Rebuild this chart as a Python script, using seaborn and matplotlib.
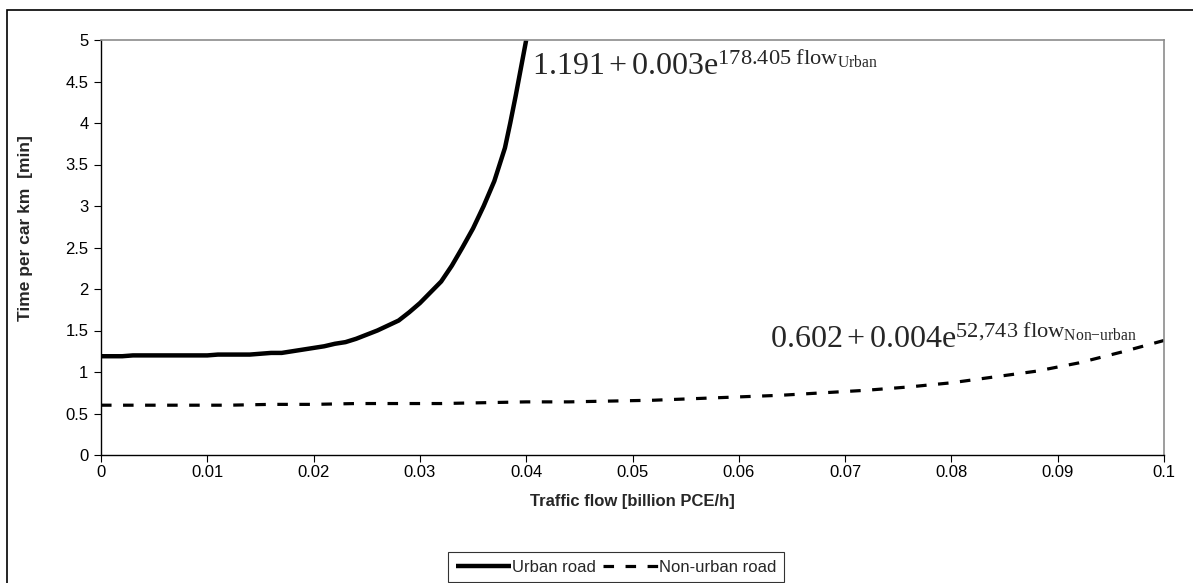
import numpy as np
import pandas as pd
import matplotlib
matplotlib.use("Agg")
import matplotlib.pyplot as plt
import seaborn as sns
from matplotlib.patches import Rectangle

# ---------------- data ----------------
urban_flow = [0.000, 0.001, 0.002, 0.003, 0.004, 0.005, 0.006, 0.007, 0.008, 0.009,
              0.010, 0.011, 0.012, 0.013, 0.014, 0.015, 0.016, 0.017, 0.018, 0.019,
              0.020, 0.021, 0.022, 0.023, 0.024, 0.025, 0.026, 0.027, 0.028, 0.029,
              0.030, 0.031, 0.032, 0.033, 0.034, 0.035, 0.036, 0.037, 0.038, 0.0385,
              0.039, 0.0395, 0.040]
urban_time = [1.19, 1.19, 1.19, 1.20, 1.20, 1.20, 1.20, 1.20, 1.20, 1.20,
              1.20, 1.21, 1.21, 1.21, 1.21, 1.22, 1.23, 1.23, 1.25, 1.27,
              1.29, 1.31, 1.34, 1.36, 1.40, 1.45, 1.50, 1.56, 1.62, 1.72,
              1.83, 1.96, 2.09, 2.28, 2.50, 2.73, 3.00, 3.30, 3.70, 4.00,
              4.32, 4.66, 5.00]

nonurban_flow = [0.000, 0.004, 0.008, 0.012, 0.016, 0.020, 0.024, 0.028, 0.032,
                 0.036, 0.040, 0.044, 0.048, 0.052, 0.056, 0.060, 0.064, 0.068,
                 0.072, 0.076, 0.080, 0.084, 0.088, 0.092, 0.096, 0.100]
nonurban_time = [0.60, 0.60, 0.60, 0.60, 0.61, 0.61, 0.62, 0.62, 0.62,
                 0.63, 0.64, 0.64, 0.65, 0.66, 0.68, 0.70, 0.72, 0.75,
                 0.78, 0.82, 0.87, 0.94, 1.01, 1.11, 1.24, 1.38]

series_names = ["Urban road", "Non-urban road"]

x_ticks = [0.0, 0.01, 0.02, 0.03, 0.04, 0.05, 0.06, 0.07, 0.08, 0.09, 0.1]
x_tick_labels = ["0", "0.01", "0.02", "0.03", "0.04", "0.05", "0.06", "0.07",
                 "0.08", "0.09", "0.1"]
y_ticks = [0, 0.5, 1, 1.5, 2, 2.5, 3, 3.5, 4, 4.5, 5]
y_tick_labels = ["0", "0.5", "1", "1.5", "2", "2.5", "3", "3.5", "4", "4.5", "5"]

x_label = "Traffic flow [billion PCE/h]"
y_label = "Time per car km  [min]"
urban_eq = r"$\mathrm{1.191+0.003e^{178.405\ flow_{Urban}}}$"
nonurban_eq = r"$\mathrm{0.602+0.004e^{52{,}743\ flow_{Non{-}urban}}}$"

# ---------------- style ----------------
sns.set_style("white")
plt.rcParams["font.family"] = ["Liberation Sans", "DejaVu Sans"]
plt.rcParams["mathtext.fontset"] = "custom"
plt.rcParams["mathtext.rm"] = "Liberation Serif"
plt.rcParams["mathtext.it"] = "Liberation Serif:italic"
plt.rcParams["mathtext.bf"] = "Liberation Serif:bold"

W, H = 1193, 583
fig = plt.figure(figsize=(W / 100, H / 100), dpi=100)
fig.patch.set_facecolor("white")

# axes placement (pixels from reference)
left, right, top, bottom = 101, 1164, 40, 455
ax = fig.add_axes([left / W, 1 - bottom / H, (right - left) / W, (bottom - top) / H])

df_u = pd.DataFrame({"flow": urban_flow, "time": urban_time, "road": series_names[0]})
df_n = pd.DataFrame({"flow": nonurban_flow, "time": nonurban_time, "road": series_names[1]})

sns.lineplot(data=df_u, x="flow", y="time", ax=ax, color="black", lw=3.2,
             label=series_names[0], solid_capstyle="butt")
sns.lineplot(data=df_n, x="flow", y="time", ax=ax, color="black", lw=2.3,
             label=series_names[1])
ax.lines[1].set_dashes([3.3, 3.6])
ax.lines[1].set_dash_capstyle("butt")

ax.set_xlim(0, 0.1)
ax.set_ylim(0, 5)
ax.set_xticks(x_ticks)
ax.set_xticklabels(x_tick_labels)
ax.set_yticks(y_ticks)
ax.set_yticklabels(y_tick_labels)
ax.tick_params(axis="both", which="major", direction="out", length=5, width=0.8,
               color="black", labelsize=12, labelcolor="black")
ax.tick_params(axis="x", pad=2.5, bottom=True)
ax.tick_params(axis="y", pad=4, left=True)

for side in ["left", "bottom"]:
    ax.spines[side].set_color("black")
    ax.spines[side].set_linewidth(1.0)
for side in ["top", "right"]:
    ax.spines[side].set_color("#8c8c8c")
    ax.spines[side].set_linewidth(1.2)
    ax.spines[side].set_visible(True)

ax.set_xlabel(x_label, fontsize=12, fontweight="bold", labelpad=10)
ax.set_ylabel(y_label, fontsize=12.5, fontweight="bold")
ax.yaxis.set_label_coords(-0.064, 0.547)

ax.text(0.405, 0.915, urban_eq, transform=ax.transAxes, fontsize=23,
        ha="left", va="baseline")
ax.text(0.629, 0.258, nonurban_eq, transform=ax.transAxes, fontsize=23,
        ha="left", va="baseline")

handles, labels = ax.get_legend_handles_labels()
ax.get_legend().remove()
leg = fig.legend(handles, labels, loc="upper left",
                 bbox_to_anchor=(448 / W, 1 - 552 / H), ncol=2, frameon=True,
                 fancybox=False, edgecolor="black", fontsize=12,
                 handlelength=3.3, handletextpad=0.1, columnspacing=0.4,
                 borderpad=0.45, borderaxespad=0)
leg.get_frame().set_linewidth(0.8)

# outer chart-area border
fig.patches.append(Rectangle((7 / W, -0.05), 1.2, (1 - 10 / H) + 0.05,
                             transform=fig.transFigure, fill=False,
                             edgecolor="black", linewidth=1.2))

fig.savefig("out.png", dpi=100)
